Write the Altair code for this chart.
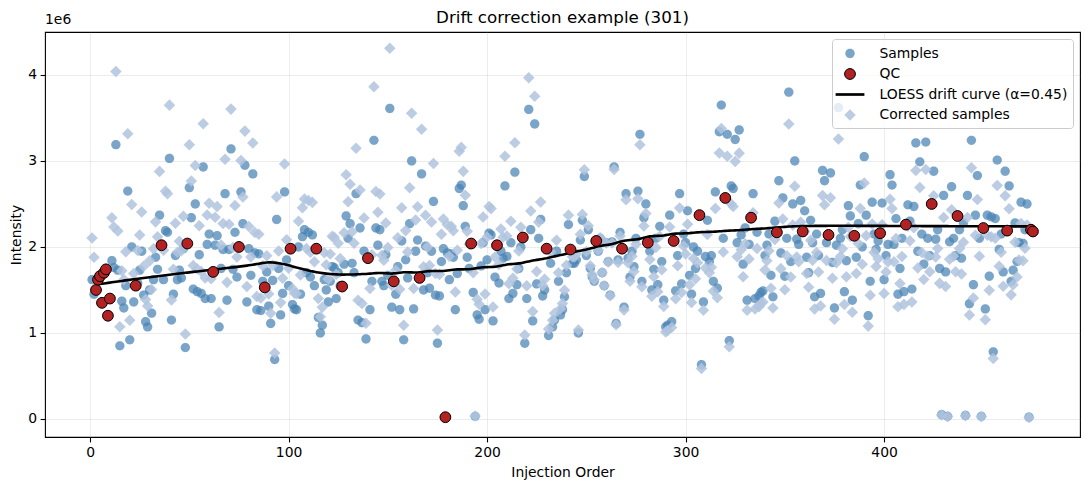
import numpy as np
import pandas as pd
import altair as alt

N = None  # QC injection at this position (no study sample)
FONT = "DejaVu Sans"

# Raw study-sample intensity (x1e6) by injection order 1..475, ten orders per row
sample_rows = [
    [1.62, 1.45, N, N, N, N, N, N, N, N],
    [1.84, 1.76, 3.19, 1.73, 0.85, 1.37, 1.29, 1.55, 2.65, 0.92],
    [2.00, 1.36, N, 1.58, 1.73, 1.95, 1.44, 1.13, 1.07, 1.50],
    [1.23, 1.62, 1.88, 1.74, 2.37, N, 1.62, 2.19, 2.17, 3.03],
    [1.15, 1.45, 1.90, 1.62, 1.73, 1.64, 1.98, 0.83, N, 2.69],
    [2.34, 1.51, 2.50, 1.48, 1.91, 1.46, 2.93, 1.40, 2.03, 2.15],
    [1.40, N, 2.02, 2.13, 1.07, 1.75, 1.97, 2.62, 1.38, 1.97],
    [3.14, 1.74, 2.17, 1.65, N, 2.64, 2.27, 2.95, 1.36, 1.98],
    [1.67, 2.85, 1.93, 1.27, 1.92, 1.26, 1.60, N, 1.71, 1.31],
    [1.11, 1.61, 0.69, 2.32, 1.75, 1.21, 1.46, 2.64, 1.85, 1.55],
    [N, 1.33, 1.28, 1.27, 2.00, 1.45, 2.12, 2.20, 1.70, 2.17],
    [1.65, 2.14, 1.55, N, 1.18, 1.00, 1.09, 1.62, 1.50, 1.36],
    [1.60, 1.77, 1.76, 1.40, 1.70, 1.55, N, 1.80, 2.36, 2.10],
    [2.27, 1.81, 1.70, 2.62, 1.15, 2.22, 1.12, 1.95, 0.93, N],
    [1.27, 1.60, 3.24, 2.22, 2.02, 2.20, 1.60, 1.55, 1.91, 1.67],
    [3.61, 1.30, N, 1.45, 1.77, 1.27, 2.07, 0.92, 1.85, 1.64],
    [2.27, 3.00, 1.28, 1.95, 2.08, N, 2.85, 1.50, 2.01, 1.70],
    [1.52, 1.95, 2.53, 1.44, 0.88, 1.43, 1.83, 1.98, N, 1.93],
    [1.62, 1.92, 1.88, 1.27, 1.69, 2.68, 2.72, 2.48, 2.24, 1.88],
    [1.75, N, 1.47, 0.03, 1.21, 1.16, 1.78, 2.05, 1.27, 1.85],
    [2.16, 2.14, 1.14, 1.65, N, 1.58, 1.95, 1.87, 2.71, 1.89],
    [1.40, 2.05, 1.46, 2.87, 1.56, 1.75, 2.00, N, 0.88, 1.40],
    [3.60, 2.20, 1.14, 3.43, 1.57, 2.10, 2.32, 1.43, 1.50, N],
    [0.97, 1.81, 1.07, 1.15, 1.95, 1.60, 1.21, 1.27, 1.42, 1.70],
    [2.26, N, 1.81, 1.81, 1.85, 1.00, 2.08, 2.31, 2.82, 1.90],
    [2.20, 1.75, 1.65, 1.60, N, 1.95, 2.10, 1.70, 1.55, 2.05],
    [1.83, 1.44, 2.06, 2.93, 1.11, 1.85, 2.17, N, 1.30, 2.62],
    [1.87, 1.65, 1.95, 1.77, 2.10, 2.65, 3.31, 1.60, 2.34, 2.50],
    [N, 1.95, 1.50, 1.74, 2.10, 1.56, 2.24, 1.83, 1.38, 1.07],
    [1.09, 2.37, 1.13, N, 1.49, 1.90, 2.62, 1.57, 2.15, 2.05],
    [2.42, 1.67, 1.45, 2.00, 1.75, 1.95, N, 0.63, 1.36, 1.89],
    [2.31, 1.83, 1.90, 1.60, 2.64, 1.52, 3.34, 3.65, 2.10, N],
    [3.31, 0.91, 2.71, 2.68, 3.25, 2.05, 3.36, 2.14, 1.80, 2.22],
    [1.38, 2.03, N, 2.62, 1.40, 2.17, 1.43, 1.47, 1.49, 1.90],
    [2.02, 2.15, 1.67, 1.42, 2.30, N, 2.77, 1.93, 2.57, 1.66],
    [2.10, 3.80, 1.83, 2.50, 3.00, 2.09, 2.03, 2.54, N, 2.42],
    [1.88, 1.70, 2.31, 2.05, 1.42, 2.15, 1.90, 1.46, 2.89, 2.77],
    [2.05, N, 2.86, 1.82, 1.29, 2.02, 3.62, 2.10, 2.20, 1.48],
    [1.84, 2.48, 2.36, 1.38, N, 1.88, 2.27, 2.72, 2.00, 3.05],
    [2.37, 1.20, 1.60, 2.52, 2.15, 1.97, 2.07, N, 2.51, 1.62],
    [1.90, 2.03, 2.84, 2.72, 2.03, 2.33, 1.45, 1.75, 2.10, 1.48],
    [N, 2.49, 2.30, 1.51, 2.47, 3.21, 1.95, 2.99, 2.15, 1.80],
    [3.22, 2.10, 1.90, N, 2.88, 2.09, 2.20, 1.75, 0.05, 2.60],
    [1.71, 0.03, 2.06, 2.70, 2.10, 1.90, N, 2.20, 1.87, 2.28],
    [0.04, 2.60, 1.34, 3.24, 1.56, 2.37, 2.83, 2.10, 0.03, N],
    [1.28, 2.37, 1.66, 2.35, 0.78, 2.33, 3.01, 1.97, 2.15, 1.71],
    [2.88, N, 2.71, 1.60, 1.73, 2.28, 1.83, 2.05, 2.52, 2.04],
    [2.20, 2.50, 0.02, N, N],
]

# Pooled QC injections (x1e6)
qc_order = [3, 4, 5, 6, 7, 8, 9, 10, 23, 36, 49, 62, 75, 88, 101, 114, 127, 140,
            153, 166, 179, 192, 205, 218, 230, 242, 255, 268, 281, 294, 307, 320,
            333, 346, 359, 372, 385, 398, 411, 424, 437, 450, 462, 474, 475]
qc_intensity = [1.50, 1.62, 1.66, 1.35, 1.70, 1.74, 1.20, 1.40, 1.55, 2.02, 2.04,
                1.71, 2.00, 1.53, 1.98, 1.98, 1.54, 1.87, 1.60, 1.64, 0.02, 2.04,
                2.02, 2.11, 1.98, 1.97, 2.07, 1.98, 2.05, 2.07, 2.37, 2.57, 2.34,
                2.17, 2.18, 2.14, 2.13, 2.16, 2.26, 2.50, 2.36, 2.22, 2.19, 2.20,
                2.18]

LOESS_FRAC = 0.45
series = ["Samples", "QC", f"LOESS drift curve (\u03b1={LOESS_FRAC})", "Corrected samples"]
fill_colors = ["rgba(70,130,180,0.72)", "#b22222", "#000000", "rgba(176,196,222,0.85)"]
edge_colors = ["transparent", "#000000", "transparent", "transparent"]


def circle_path(r):
    return f"M{-r},0A{r},{r} 0 1,0 {r},0A{r},{r} 0 1,0 {-r},0Z"


# Unit-space symbol outlines, scaled by the common symbol size
symbol_paths = [
    circle_path(0.52),
    circle_path(0.6),
    "M-1.6,-0.15L1.6,-0.15L1.6,0.15L-1.6,0.15Z",
    "M0,-0.64L0.64,0L0,0.64L-0.64,0Z",
]
SYMBOL_SIZE = 324


def loess(x, y, x_eval, frac):
    """Locally weighted linear regression with tricube weights over the nearest frac of points."""
    x = np.asarray(x, float)
    y = np.asarray(y, float)
    k = int(np.ceil(frac * len(x)))

    def fit(x0):
        d = np.abs(x - x0)
        h = max(np.sort(d)[k - 1], 1e-12)
        w = (1 - np.clip(d / h, 0, 1) ** 3) ** 3
        sw = w.sum()
        xm = (w * x).sum() / sw
        ym = (w * y).sum() / sw
        sxx = (w * (x - xm) ** 2).sum()
        slope = (w * (x - xm) * (y - ym)).sum() / sxx if sxx > 0 else 0.0
        return ym + slope * (x0 - xm)

    return np.array([fit(x0) for x0 in np.asarray(x_eval, float)])


flat = [v for row in sample_rows for v in row]
sample_order = [i + 1 for i, v in enumerate(flat) if v is not None]
sample_intensity = [v for v in flat if v is not None]

qc_median = float(np.median(qc_intensity))
drift_at_samples = loess(qc_order, qc_intensity, sample_order, LOESS_FRAC)
curve_order = list(range(min(qc_order), max(qc_order) + 1))
curve_value = loess(qc_order, qc_intensity, curve_order, LOESS_FRAC)
corrected = np.array(sample_intensity) * qc_median / drift_at_samples

samples_df = pd.DataFrame({"order": sample_order, "intensity": sample_intensity, "series": series[0]})
qc_df = pd.DataFrame({"order": qc_order, "intensity": qc_intensity, "series": series[1]})
curve_df = pd.DataFrame({"order": curve_order, "intensity": curve_value})
corrected_df = pd.DataFrame({"order": sample_order, "intensity": corrected, "series": series[3]})

x_scale = alt.Scale(domain=[-22.7, 498.7], nice=False, zero=False)
y_scale = alt.Scale(domain=[-0.21, 4.50], nice=False, zero=False)
x_axis = alt.Axis(title="Injection Order", values=[0, 100, 200, 300, 400], labelFlush=False,
                  titlePadding=6)
y_axis = alt.Axis(title="Intensity", values=[0, 1, 2, 3, 4], labelFlush=False, titlePadding=4)

legend = alt.Legend(title=None, orient="top-right", offset=7, labelLimit=400)
fill_scale = alt.Scale(domain=series, range=fill_colors)
edge_scale = alt.Scale(domain=series, range=edge_colors)
shape_scale = alt.Scale(domain=series, range=symbol_paths)

X = alt.X("order:Q", scale=x_scale, axis=x_axis)
Y = alt.Y("intensity:Q", scale=y_scale, axis=y_axis)


def scatter(df):
    return alt.Chart(df).mark_point(
        filled=True, size=SYMBOL_SIZE, opacity=1, strokeWidth=1
    ).encode(
        x=X,
        y=Y,
        color=alt.Color("series:N", scale=fill_scale, legend=legend),
        stroke=alt.Stroke("series:N", scale=edge_scale, legend=legend),
        shape=alt.Shape("series:N", scale=shape_scale, legend=legend),
    )


curve = alt.Chart(curve_df).mark_line(color="black", strokeWidth=2.6).encode(x=X, y=Y)

exponent = alt.Chart(pd.DataFrame({"label": ["1e6"]})).mark_text(
    align="left", baseline="alphabetic", font=FONT, fontSize=13.9, color="black"
).encode(x=alt.value(0), y=alt.value(-8), text="label:N")

chart = alt.layer(
    scatter(samples_df), scatter(corrected_df), curve, scatter(qc_df), exponent
).properties(
    width=1035,
    height=405,
    title=alt.TitleParams("Drift correction example (301)", font=FONT, fontSize=16.7,
                          fontWeight="normal", color="black", anchor="middle", offset=-14),
    padding={"left": 45, "top": 32, "right": 9, "bottom": 53},
    autosize=alt.AutoSizeParams(type="none"),
).configure_view(
    stroke="black", strokeWidth=1.1
).configure_axis(
    grid=True, gridColor="#b0b0b0", gridOpacity=0.3, gridWidth=0.8, domain=False,
    tickColor="black", tickSize=4.9, tickWidth=1.1, labelPadding=3.5,
    labelFont=FONT, labelFontSize=13.9, labelColor="black",
    titleFont=FONT, titleFontSize=13.9, titleColor="black", titleFontWeight="normal",
).configure_legend(
    padding=5, fillColor="rgba(255,255,255,0.8)", strokeColor="#cccccc", cornerRadius=3,
    labelFont=FONT, labelFontSize=13.9, labelColor="black", labelOffset=20,
    symbolOffset=3.5, symbolSize=SYMBOL_SIZE, symbolStrokeWidth=1, rowPadding=3.5,
)

chart.save("out.html", embed_options={"renderer": "svg", "actions": False})
